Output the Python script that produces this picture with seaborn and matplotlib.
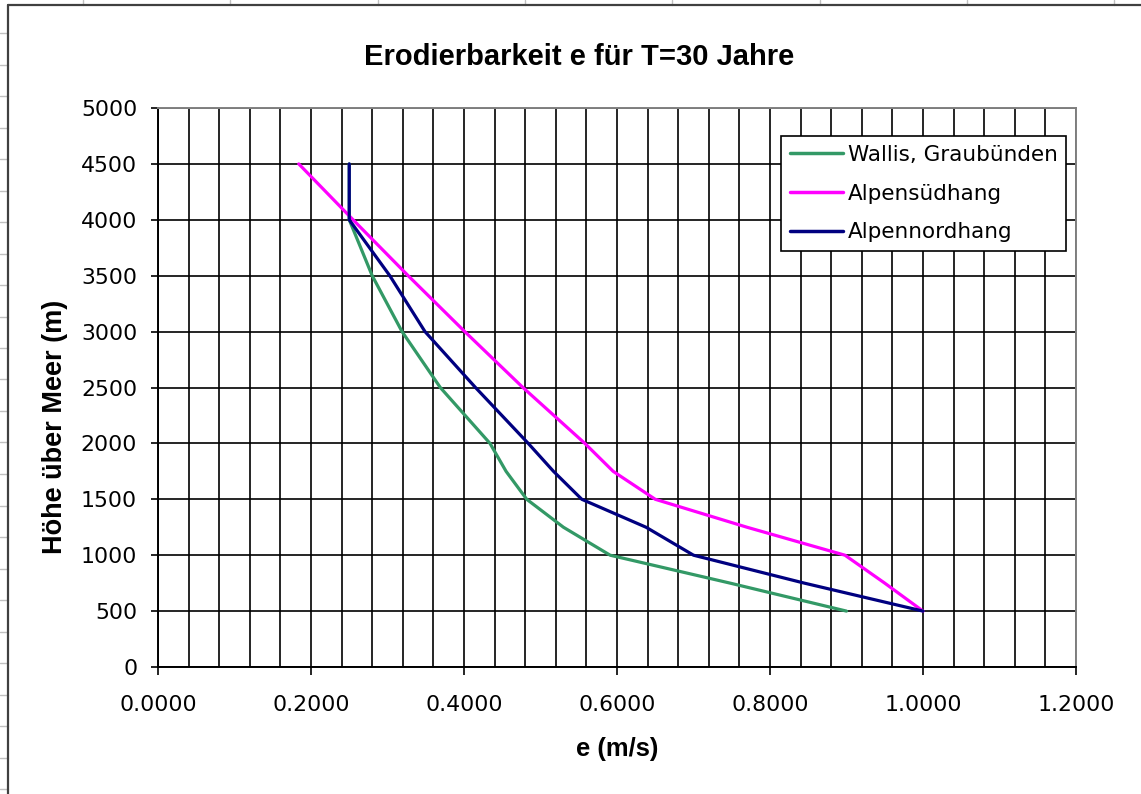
import numpy as np
import pandas as pd
import seaborn as sns
import matplotlib
matplotlib.use("Agg")
import matplotlib.pyplot as plt
from matplotlib.ticker import MultipleLocator, FormatStrFormatter
from matplotlib.lines import Line2D

# Altitude levels (m above sea level)
hoehe = [4500, 4000, 3500, 3000, 2500, 2000, 1750, 1500, 1250, 1000, 750, 500]

# Erodibility e (m/s) per region
wallis_graubuenden = [0.25, 0.25, 0.280, 0.319, 0.369, 0.434, 0.455, 0.482, 0.530, 0.591, 0.748, 0.90]
alpensuedhang = [0.184, 0.255, 0.327, 0.401, 0.477, 0.558, 0.595, 0.650, 0.770, 0.898, 0.950, 1.00]
alpennordhang = [0.25, 0.25, 0.303, 0.349, 0.415, 0.484, 0.517, 0.554, 0.638, 0.700, 0.845, 1.00]

serien = ["Wallis, Graubünden", "Alpensüdhang", "Alpennordhang"]
farben = ["#339966", "#FF00FF", "#000080"]

x_ticks = [0.0, 0.2, 0.4, 0.6, 0.8, 1.0, 1.2]
y_ticks = [0, 500, 1000, 1500, 2000, 2500, 3000, 3500, 4000, 4500, 5000]

frames = []
for name, werte in zip(serien, [wallis_graubuenden, alpensuedhang, alpennordhang]):
    frames.append(pd.DataFrame({"e": werte, "h": hoehe, "Region": name}))
df = pd.concat(frames, ignore_index=True)

sns.set_style("white")
plt.rcParams["font.family"] = ["DejaVu Sans"]
plt.rcParams["text.color"] = "black"
plt.rcParams["axes.labelcolor"] = "black"
plt.rcParams["xtick.color"] = "black"
plt.rcParams["ytick.color"] = "black"

W, H = 1141, 794
fig = plt.figure(figsize=(W / 100, H / 100), dpi=100)
fig.patch.set_facecolor("white")
ax = fig.add_axes([158 / W, 1 - 667 / H, (1076 - 158) / W, (667 - 108) / H])

sns.lineplot(data=df, x="e", y="h", hue="Region", hue_order=serien,
             palette=farben, sort=False, estimator=None, linewidth=2.3,
             ax=ax, zorder=3)

ax.set_xlim(0, 1.2)
ax.set_ylim(0, 5000)
ax.set_xticks(x_ticks)
ax.xaxis.set_minor_locator(MultipleLocator(0.04))
ax.xaxis.set_major_formatter(FormatStrFormatter("%.4f"))
ax.set_yticks(y_ticks)

ax.set_axisbelow(True)
ax.grid(True, which="major", axis="both", color="black", linewidth=1.2)
ax.grid(True, which="minor", axis="x", color="black", linewidth=1.2)

ax.tick_params(axis="x", which="major", direction="out", length=6, width=1.2,
               color="black", bottom=True, labelsize=15.8, pad=14, labelcolor="black")
ax.tick_params(axis="x", which="minor", length=0)
ax.tick_params(axis="y", direction="out", length=5, width=1.2, color="black",
               left=True, labelsize=15.8, pad=10, labelcolor="black")

for side in ["left", "bottom"]:
    ax.spines[side].set_color("black")
    ax.spines[side].set_linewidth(1.4)
for side in ["top", "right"]:
    ax.spines[side].set_color("#808080")
    ax.spines[side].set_linewidth(1.4)

ax.set_xlabel("e (m/s)", family=["Liberation Sans", "DejaVu Sans"],
              fontweight="bold", fontsize=18.4, labelpad=16, color="black")
ax.set_ylabel("Höhe über Meer (m)", family=["Liberation Sans", "DejaVu Sans"],
              fontweight="bold", fontsize=19.5, color="black")
ax.yaxis.set_label_coords((68 - 158) / 918, (667 - 427) / 559)

fig.text(579 / W, 1 - 57 / H, "Erodierbarkeit e für T=30 Jahre",
         family=["Liberation Sans", "DejaVu Sans"], fontweight="bold",
         fontsize=21, ha="center", va="center", color="black")

leg = ax.legend(loc="upper left", bbox_to_anchor=((781 - 158) / 918, (667 - 136) / 559),
                borderaxespad=0, fontsize=15.5, handlelength=2.5, handletextpad=0.2,
                labelspacing=0.88, borderpad=0.4, fancybox=False, framealpha=1,
                edgecolor="black", title=None)
leg.get_frame().set_linewidth(1.2)
for line in leg.get_lines():
    line.set_linewidth(2.5)
for t in leg.get_texts():
    t.set_color("black")

# Chart frame and surrounding sheet cells
def px_line(x0, y0, x1, y1, **kw):
    fig.add_artist(Line2D([x0 / W, x1 / W], [1 - y0 / H, 1 - y1 / H],
                          transform=fig.transFigure, **kw))

for cx in [83, 230, 378, 525, 672, 820, 967, 1114]:
    px_line(cx, 0, cx, 5, color="#c0c0c0", linewidth=1)
for ry in np.arange(33, 794, 31.5):
    px_line(0, ry, 8, ry, color="#c0c0c0", linewidth=1)
px_line(8, 5, W, 5, color="#404040", linewidth=1.6)
px_line(8, 5, 8, H, color="#404040", linewidth=1.6)

fig.savefig("out.png", dpi=100, facecolor="white")
